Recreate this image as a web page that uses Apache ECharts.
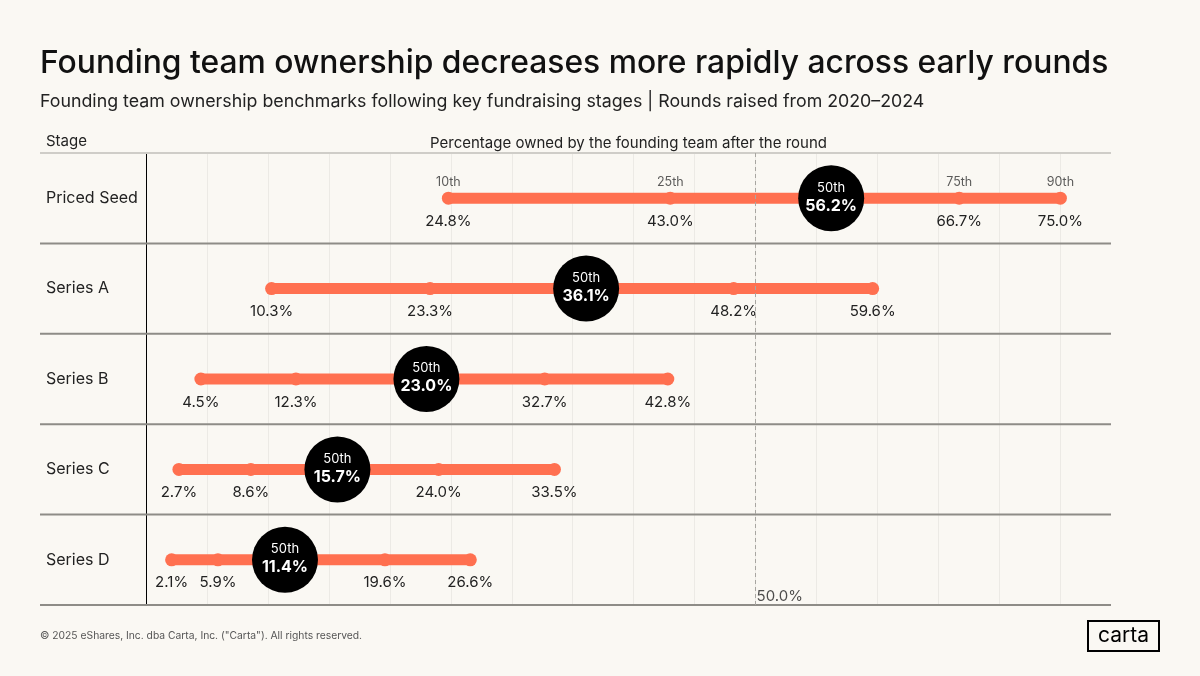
<!DOCTYPE html>
<html><head><meta charset="utf-8">
<script src="https://cdn.jsdelivr.net/npm/echarts@6/dist/echarts.min.js"></script>
<style>html,body{margin:0;padding:0;background:#FAF8F3}#c{width:1200px;height:676px}</style>
</head><body><div id="c"></div>
<script>
const stages = ['Priced Seed', 'Series A', 'Series B', 'Series C', 'Series D'];
const percentileNames = ['10th', '25th', '50th', '75th', '90th'];
const p10 = [24.8, 10.3, 4.5, 2.7, 2.1];
const p25 = [43.0, 23.3, 12.3, 8.6, 5.9];
const p50 = [56.2, 36.1, 23.0, 15.7, 11.4];
const p75 = [66.7, 48.2, 32.7, 24.0, 19.6];
const p90 = [75.0, 59.6, 42.8, 33.5, 26.6];
const referenceValue = 50.0;

const FONT = 'Inter';
const ORANGE = '#FF7050';
const fmt = v => v.toFixed(1) + '%';

const rangeData = stages.map((s, i) => [p10[i], p90[i], i]);
const dotData = [];
const nameData = [];
stages.forEach((s, i) => {
  [[p10, 0], [p25, 1], [p75, 3], [p90, 4]].forEach(([arr, k]) => {
    dotData.push([arr[i], i, percentileNames[k]]);
    if (i === 0) nameData.push([arr[i], i, percentileNames[k]]);
  });
});
const medianData = stages.map((s, i) => [p50[i], i, percentileNames[2]]);

const chart = echarts.init(document.getElementById('c'));
chart.setOption({
  backgroundColor: '#FAF8F3',
  animation: false,
  textStyle: { fontFamily: FONT },
  grid: { left: 146, right: 89, top: 153, bottom: 71 },
  xAxis: {
    type: 'value', position: 'top', min: 0, max: 79.15, interval: 5,
    axisLabel: { show: false }, axisTick: { show: false }, axisLine: { show: false },
    splitLine: { show: true, showMaxLine: false, lineStyle: { color: '#ECEAE5', width: 1 } },
    name: 'Percentage owned by the founding team after the round',
    nameLocation: 'middle', nameGap: 2,
    nameTextStyle: { fontSize: 15, color: '#222', fontFamily: FONT }
  },
  yAxis: {
    type: 'category', data: stages, inverse: true,
    axisLine: { show: true, lineStyle: { color: '#000', width: 1 } },
    axisTick: { show: false },
    splitLine: { show: false },
    axisLabel: { align: 'left', margin: 100, fontSize: 16, color: '#222', fontFamily: FONT, padding: [6, 0, 0, 0] }
  },
  graphic: [
    { type: 'text', left: 40, top: 47, style: { text: 'Founding team ownership decreases more rapidly across early rounds', fontSize: 31.8, fontWeight: 500, fill: '#111', fontFamily: FONT } },
    { type: 'text', left: 40, top: 93, style: { text: 'Founding team ownership benchmarks following key fundraising stages | Rounds raised from 2020–2024', fontSize: 17.8, fill: '#222', fontFamily: FONT } },
    { type: 'text', left: 46, top: 134, style: { text: 'Stage', fontSize: 15, fill: '#222', fontFamily: FONT } },
    { type: 'text', left: 40, top: 631, style: { text: '© 2025 eShares, Inc. dba Carta, Inc. ("Carta"). All rights reserved.', fontSize: 10.3, fill: '#555', fontFamily: FONT } },
    { type: 'rect', shape: { x: 1088, y: 621, width: 71, height: 30 }, style: { fill: 'none', stroke: '#000', lineWidth: 2 } },
    { type: 'text', x: 1123.5, y: 636, style: { text: 'carta', fontSize: 21, fill: '#000', fontFamily: FONT, align: 'center', verticalAlign: 'middle' } }
  ],
  series: [
    {
      type: 'custom', name: 'rows', z: 1, silent: true,
      data: stages.map((s, i) => [0, i]),
      encode: { x: 0, y: 1 },
      clip: false,
      renderItem: (params, api) => {
        const idx = api.value(1);
        const c = api.coord([0, idx]);
        const band = api.size([0, 1])[1];
        const cs = params.coordSys;
        const right = cs.x + cs.width;
        const children = [{
          type: 'line', shape: { x1: 40, y1: c[1] + band / 2, x2: right, y2: c[1] + band / 2 },
          style: { stroke: '#8E8C87', lineWidth: 2 }
        }];
        if (idx === 0) {
          children.push({
            type: 'line', shape: { x1: 40, y1: c[1] - band / 2, x2: right, y2: c[1] - band / 2 },
            style: { stroke: '#CFCDC8', lineWidth: 2 }
          });
        }
        return { type: 'group', children };
      }
    },
    {
      type: 'scatter', name: 'reference', z: 1, silent: true,
      data: [[referenceValue, stages.length - 1]],
      symbolSize: 0,
      label: { show: true, position: 'right', distance: 1, offset: [0, 37], formatter: p => fmt(p.value[0]), fontSize: 15, color: '#222', fontFamily: FONT },
      markLine: {
        symbol: 'none', silent: true, label: { show: false },
        lineStyle: { color: '#A8A6A1', type: [4, 3], width: 1 },
        data: [{ xAxis: referenceValue }]
      }
    },
    {
      type: 'custom', name: 'range', z: 2, silent: true,
      data: rangeData,
      encode: { x: [0, 1], y: 2 },
      renderItem: (params, api) => {
        const a = api.coord([api.value(0), api.value(2)]);
        const b = api.coord([api.value(1), api.value(2)]);
        return { type: 'line', shape: { x1: a[0], y1: a[1], x2: b[0], y2: b[1] }, style: { stroke: ORANGE, lineWidth: 11, lineCap: 'round' } };
      }
    },
    {
      type: 'scatter', name: 'percentiles', z: 3, silent: true,
      data: dotData, symbolSize: 13, itemStyle: { color: ORANGE, opacity: 1 },
      label: { show: true, position: 'bottom', distance: 9, formatter: p => fmt(p.value[0]), fontSize: 15, color: '#222', fontFamily: FONT }
    },
    {
      type: 'scatter', name: 'names', z: 3, silent: true,
      data: nameData, symbolSize: 0,
      label: { show: true, position: 'top', distance: 9, formatter: p => p.value[2], fontSize: 12.5, color: '#333', fontFamily: FONT }
    },
    {
      type: 'scatter', name: 'median', z: 4, silent: true,
      data: medianData, symbolSize: 66, itemStyle: { color: '#000', opacity: 1 },
      label: {
        show: true, position: 'inside', offset: [0, -1],
        formatter: p => '{a|' + p.value[2] + '}\n{b|' + fmt(p.value[0]) + '}',
        rich: {
          a: { fontSize: 13, lineHeight: 17, color: '#fff', fontFamily: FONT, align: 'center' },
          b: { fontSize: 16, lineHeight: 19, color: '#fff', fontWeight: 'bold', fontFamily: FONT, align: 'center' }
        }
      }
    }
  ]
});
</script></body></html>
